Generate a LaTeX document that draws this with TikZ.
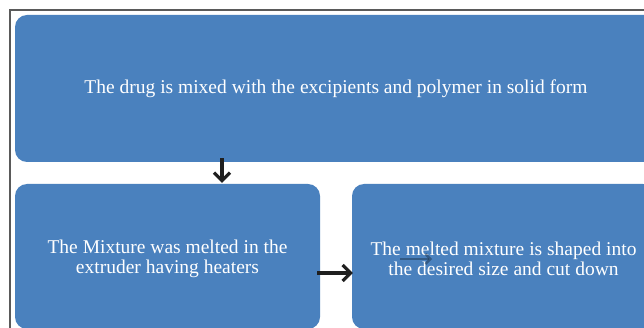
\documentclass[tikz,border=0pt]{standalone}
\usepackage{fontspec}
\setmainfont{Liberation Serif}
\usetikzlibrary{arrows.meta}
\definecolor{boxblue}{RGB}{74,129,190}
\definecolor{framegray}{RGB}{90,90,90}
\tikzset{
  stepbox/.style={draw=none, fill=boxblue, rounded corners=12pt, inner sep=0pt},
  steptext/.style={text=white, align=center, inner sep=0pt, font=\fontsize{19.5}{20.2}\selectfont},
  flowarrow/.style={line width=3.4pt, black!88, -{Straight Barb[length=8pt,width=16pt,line width=3.2pt]}},
}
\begin{document}
\begin{tikzpicture}[x=1pt,y=-1pt]
\useasboundingbox (0,0) rectangle (644,328);
\clip (0,0) rectangle (644,328);
\fill[white] (0,0) rectangle (644,328);
\draw[framegray, line width=1.2pt] (10,10) rectangle (700,400);
\node[stepbox, minimum width=642pt, minimum height=147pt] (top) at (336,88.5) {};
\node[steptext] (toptext) at (336,88.5)
  {The drug is mixed with the excipients and polymer in solid form};
\node[stepbox, minimum width=305pt, minimum height=145pt] (melt) at (167.5,256.5) {};
\node[steptext] (melttext) at (167.5,258.5)
  {The Mixture was melted in the\\extruder having heaters};
\node[stepbox, minimum width=303pt, minimum height=145pt] (shape) at (503.5,256.5) {};
\node[steptext] (shapetext) at (503.5,258.5)
  {The melted mixture is shaped into\\the desired size and cut down};
\coordinate (ax) at (222,200);
\coordinate (ay) at (0,273);
\draw[flowarrow] ([yshift=4pt]top.south -| ax) -- ([yshift=1pt]melt.north -| ax);
\draw[flowarrow] ([xshift=-3pt]melt.east |- ay) -- ([xshift=1pt]shape.west |- ay);
\coordinate (g1) at (400,259);
\coordinate (g2) at (432,259);
\draw[line width=2.4pt, black!60!boxblue, opacity=0.5, -{Straight Barb[length=5pt,width=10pt]}] (g1) -- (g2);
\end{tikzpicture}
\end{document}
